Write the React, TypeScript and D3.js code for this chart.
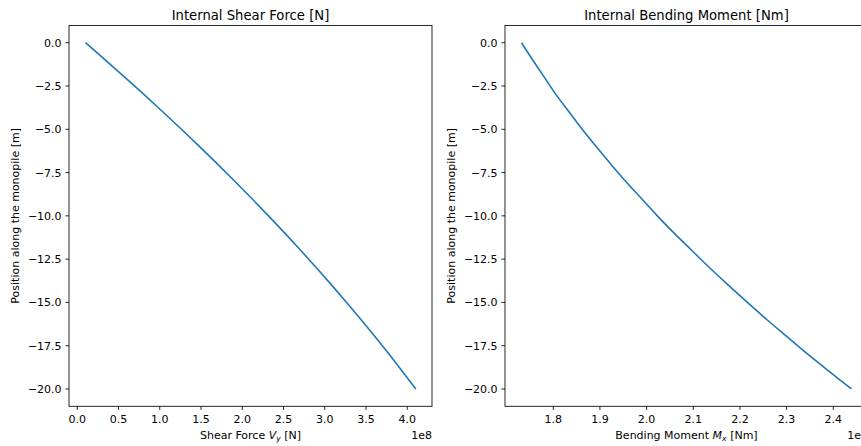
import React from "react";
import * as d3 from "d3";

// Depth along the monopile [m]
const positions: number[] = [
  0, -1, -2, -3, -4, -5, -6, -7, -8, -9, -10,
  -11, -12, -13, -14, -15, -16, -17, -18, -19, -20,
];

// Internal shear force V_y, in units of 1e8 N
const shearForce: number[] = [
  0.100, 0.341, 0.578, 0.811, 1.039, 1.263, 1.483, 1.698, 1.909, 2.116, 2.318,
  2.516, 2.710, 2.899, 3.084, 3.265, 3.441, 3.613, 3.781, 3.944, 4.103,
];

// Internal bending moment M_x, in units of 1e9 Nm
const bendingMoment: number[] = [
  1.732, 1.756, 1.781, 1.806, 1.834, 1.862, 1.892, 1.923, 1.955, 1.989, 2.023,
  2.059, 2.097, 2.135, 2.175, 2.216, 2.258, 2.302, 2.346, 2.392, 2.439,
];

const yTicks: number[] = [0, -2.5, -5, -7.5, -10, -12.5, -15, -17.5, -20];
const shearTicks: number[] = [0, 0.5, 1, 1.5, 2, 2.5, 3, 3.5, 4];
const momentTicks: number[] = [1.8, 1.9, 2.0, 2.1, 2.2, 2.3, 2.4];

const W = 861;
const H = 446;
const TOP = 25.4;
const BOTTOM = 406.3;
const FONT = "DejaVu Sans, sans-serif";
const LINE = "#1f77b4";
const TICK_LEN = 3.6;
const TICK_FS = 11;
const TITLE_FS = 13.2;

const fmt = (v: number) => d3.format(".1f")(v).replace("-", "\u2212");

type PanelProps = {
  left: number;
  right: number;
  xDomain: [number, number];
  xTicks: number[];
  values: number[];
  title: string;
  xLabelMain: string;
  mathBase: string;
  mathSub: string;
  unit: string;
  offset: string;
};

function Panel(p: PanelProps) {
  const x = d3.scaleLinear().domain(p.xDomain).range([p.left, p.right]);
  const y = d3.scaleLinear().domain([-21, 1]).range([BOTTOM, TOP]);
  const line = d3
    .line<number>()
    .x((d) => x(d))
    .y((_, i) => y(positions[i]))
    .curve(d3.curveCatmullRom);
  const cx = (p.left + p.right) / 2;

  return (
    <g fontFamily={FONT} fill="#000">
      <path d={line(p.values) ?? ""} fill="none" stroke={LINE} strokeWidth={1.6} />

      {/* frame */}
      <rect
        x={p.left}
        y={TOP}
        width={p.right - p.left}
        height={BOTTOM - TOP}
        fill="none"
        stroke="#000"
        strokeWidth={0.85}
      />

      {/* y axis */}
      {yTicks.map((t) => (
        <g key={"y" + t}>
          <line x1={p.left - TICK_LEN} x2={p.left} y1={y(t)} y2={y(t)} stroke="#000" strokeWidth={0.85} />
          <text x={p.left - 7.4} y={y(t)} dy="0.36em" textAnchor="end" fontSize={TICK_FS}>
            {fmt(t)}
          </text>
        </g>
      ))}

      {/* x axis */}
      {p.xTicks.map((t) => (
        <g key={"x" + t}>
          <line x1={x(t)} x2={x(t)} y1={BOTTOM} y2={BOTTOM + TICK_LEN} stroke="#000" strokeWidth={0.85} />
          <text x={x(t)} y={422.8} textAnchor="middle" fontSize={TICK_FS}>
            {fmt(t)}
          </text>
        </g>
      ))}

      <text x={p.right} y={438.5} textAnchor="end" fontSize={TICK_FS}>
        {p.offset}
      </text>

      <text x={cx} y={438.8} textAnchor="middle" fontSize={TICK_FS}>
        {p.xLabelMain}
        <tspan fontStyle="italic">{p.mathBase}</tspan>
        <tspan fontStyle="italic" fontSize={TICK_FS * 0.7} dy={2.3}>
          {p.mathSub}
        </tspan>
        <tspan dy={-2.3}>{" " + p.unit}</tspan>
      </text>

      <text
        transform={`translate(${p.left - 50.5},${(TOP + BOTTOM) / 2}) rotate(-90)`}
        textAnchor="middle"
        fontSize={TICK_FS}
      >
        Position along the monopile [m]
      </text>

      <text x={cx} y={19.8} textAnchor="middle" fontSize={TITLE_FS}>
        {p.title}
      </text>
    </g>
  );
}

export default function App() {
  return (
    <svg
      width={W}
      height={H}
      viewBox={`0 0 ${W} ${H}`}
      style={{ position: "absolute", left: 0, top: 0, background: "#fff" }}
    >
      <rect width={W} height={H} fill="#fff" />
      <Panel
        left={69}
        right={432}
        xDomain={[-0.1, 4.3]}
        xTicks={shearTicks}
        values={shearForce}
        title="Internal Shear Force [N]"
        xLabelMain="Shear Force "
        mathBase="V"
        mathSub="y"
        unit="[N]"
        offset="1e8"
      />
      <Panel
        left={505}
        right={868}
        xDomain={[1.6966, 2.4744]}
        xTicks={momentTicks}
        values={bendingMoment}
        title="Internal Bending Moment [Nm]"
        xLabelMain="Bending Moment "
        mathBase="M"
        mathSub="x"
        unit="[Nm]"
        offset="1e9"
      />
    </svg>
  );
}
